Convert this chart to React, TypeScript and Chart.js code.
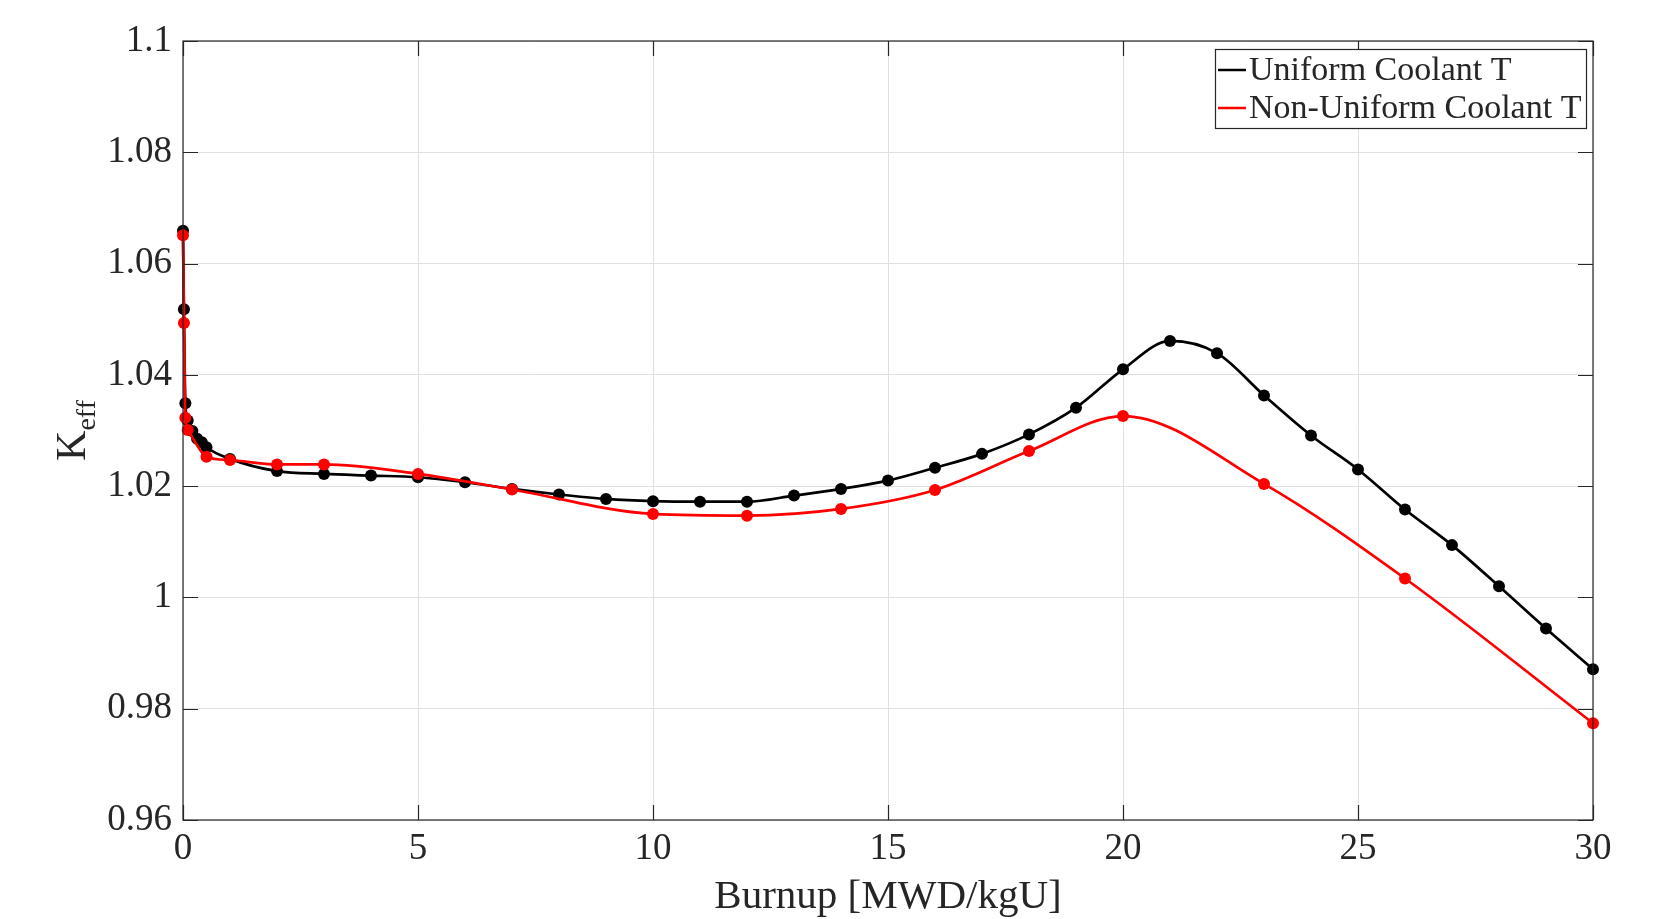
import React, { useEffect, useRef } from "react";
import { Chart, registerables } from "chart.js";
Chart.register(...registerables);

const seriesLabels = ["Uniform Coolant T", "Non-Uniform Coolant T"];
const burnupUniform = [0, 0.02, 0.05, 0.1, 0.2, 0.3, 0.4, 0.5, 1, 2, 3, 4, 5, 6, 7, 8, 9, 10, 11, 12, 13, 14, 15, 16, 17, 18, 19, 20, 21, 22, 23, 24, 25, 26, 27, 28, 29, 30];
const keffUniform = [1.0659, 1.0518, 1.0349, 1.0318, 1.0299, 1.0285, 1.0279, 1.027, 1.0249, 1.0227, 1.0222, 1.0219, 1.0216, 1.0207, 1.0195, 1.0185, 1.0177, 1.0173, 1.0172, 1.0172, 1.0183, 1.0195, 1.021, 1.0233, 1.0258, 1.0293, 1.0341, 1.041, 1.0461, 1.0439, 1.0363, 1.0291, 1.023, 1.0158, 1.0094, 1.002, 0.9944, 0.9871];
const burnupNonUniform = [0, 0.02, 0.05, 0.1, 0.5, 1, 2, 3, 5, 7, 10, 12, 14, 16, 18, 20, 23, 26, 30];
const keffNonUniform = [1.0651, 1.0493, 1.0323, 1.0301, 1.0253, 1.0247, 1.0239, 1.0239, 1.0222, 1.0194, 1.015, 1.0147, 1.0159, 1.0193, 1.0263, 1.0326, 1.0204, 1.0034, 0.9774];
const xTickValues = [0, 5, 10, 15, 20, 25, 30];
const yTickValues = [0.96, 0.98, 1.0, 1.02, 1.04, 1.06, 1.08, 1.1];
const xTitle = "Burnup [MWD/kgU]";
const yTitleMain = "K";
const yTitleSub = "eff";
const colors = ["#000000", "#ff0000"];

const FONT = "'Liberation Serif', 'Times New Roman', serif";

export default function App() {
  const ref = useRef<HTMLCanvasElement>(null);
  useEffect(() => {
    document.body.style.margin = "0";
    const canvas = ref.current!;
    const decor = {
      id: "decor",
      afterDraw(chart: any) {
        const { ctx, chartArea: a, scales } = chart;
        const xs = scales.x, ys = scales.y;
        ctx.save();
        ctx.strokeStyle = "#262626";
        ctx.lineWidth = 1.2;
        ctx.strokeRect(a.left, a.top, a.right - a.left, a.bottom - a.top);
        const tl = 15;
        ctx.beginPath();
        xTickValues.forEach((v) => {
          const p = Math.round(xs.getPixelForValue(v)) + 0.5;
          ctx.moveTo(p, a.bottom); ctx.lineTo(p, a.bottom - tl);
          ctx.moveTo(p, a.top); ctx.lineTo(p, a.top + tl);
        });
        yTickValues.forEach((v) => {
          const p = Math.round(ys.getPixelForValue(v)) + 0.5;
          ctx.moveTo(a.left, p); ctx.lineTo(a.left + tl, p);
          ctx.moveTo(a.right, p); ctx.lineTo(a.right - tl, p);
        });
        ctx.stroke();

        // x title
        ctx.fillStyle = "#262626";
        ctx.font = `41px ${FONT}`;
        ctx.textAlign = "center";
        ctx.textBaseline = "alphabetic";
        ctx.fillText(xTitle, (a.left + a.right) / 2, 908);

        // y title with subscript
        ctx.font = `42px ${FONT}`;
        const wK = ctx.measureText(yTitleMain).width;
        ctx.font = `28px ${FONT}`;
        const wS = ctx.measureText(yTitleSub).width;
        const total = wK + wS;
        const cy = (a.top + a.bottom) / 2;
        ctx.save();
        ctx.translate(85, cy + total / 2);
        ctx.rotate(-Math.PI / 2);
        ctx.textAlign = "left";
        ctx.font = `42px ${FONT}`;
        ctx.fillText(yTitleMain, 0, 0);
        ctx.font = `28px ${FONT}`;
        ctx.fillText(yTitleSub, wK, 10);
        ctx.restore();

        // legend
        const lx = 1215, ly = 49, lw = 371, lh = 79;
        ctx.fillStyle = "#ffffff";
        ctx.fillRect(lx, ly, lw, lh);
        ctx.strokeStyle = "#262626";
        ctx.lineWidth = 1.2;
        ctx.strokeRect(lx + 0.5, ly + 0.5, lw, lh);
        const rows = [70, 108];
        chart.data.datasets.forEach((ds: any, i: number) => {
          ctx.strokeStyle = ds.borderColor;
          ctx.lineWidth = 2.5;
          ctx.beginPath();
          ctx.moveTo(1218, rows[i]);
          ctx.lineTo(1246, rows[i]);
          ctx.stroke();
          ctx.fillStyle = "#262626";
          ctx.font = `34px ${FONT}`;
          ctx.textAlign = "left";
          ctx.textBaseline = "middle";
          ctx.fillText(ds.label, 1249, rows[i] + 1);
        });
        ctx.restore();
      },
    };

    const chart = new Chart(canvas, {
      type: "line",
      data: {
        datasets: [
          {
            label: seriesLabels[0],
            data: burnupUniform.map((x, i) => ({ x, y: keffUniform[i] })),
            borderColor: colors[0],
            backgroundColor: colors[0],
            pointBackgroundColor: colors[0],
            borderWidth: 2.7,
            pointRadius: 6,
            pointBorderWidth: 0,
            cubicInterpolationMode: "monotone",
            clip: false,
            order: 1,
          },
          {
            label: seriesLabels[1],
            data: burnupNonUniform.map((x, i) => ({ x, y: keffNonUniform[i] })),
            borderColor: colors[1],
            backgroundColor: colors[1],
            pointBackgroundColor: colors[1],
            borderWidth: 2.7,
            pointRadius: 6,
            pointBorderWidth: 0,
            cubicInterpolationMode: "monotone",
            clip: false,
            order: 0,
          },
        ] as any,
      },
      options: {
        animation: false,
        responsive: false,
        devicePixelRatio: 1,
        layout: { padding: { left: 0, top: 41, right: 68, bottom: 0 } },
        plugins: { legend: { display: false }, tooltip: { enabled: false } },
        scales: {
          x: {
            type: "linear",
            min: 0,
            max: 30,
            afterBuildTicks: (s: any) => { s.ticks = xTickValues.map((v) => ({ value: v })); },
            afterFit: (s: any) => { s.height = 99; },
            ticks: {
              font: { family: FONT, size: 37 },
              color: "#262626",
              padding: 7,
              maxRotation: 0,
              callback: (v: any) => String(v),
            },
            grid: { color: "#e0e0e0", lineWidth: 1, drawTicks: false },
            border: { display: false },
          },
          y: {
            type: "linear",
            min: 0.96,
            max: 1.1,
            afterBuildTicks: (s: any) => { s.ticks = yTickValues.map((v) => ({ value: v })); },
            afterFit: (s: any) => { s.width = 183; },
            ticks: {
              font: { family: FONT, size: 37 },
              color: "#262626",
              padding: 11,
              callback: (v: any) => String(Number(Number(v).toFixed(2))),
            },
            grid: { color: "#e0e0e0", lineWidth: 1, drawTicks: false },
            border: { display: false },
          },
        },
      },
      plugins: [decor],
    });
    return () => chart.destroy();
  }, []);
  return (
    <div style={{ position: "fixed", left: 0, top: 0, width: 1661, height: 919, background: "#fff" }}>
      <canvas ref={ref} width={1661} height={919} />
    </div>
  );
}
